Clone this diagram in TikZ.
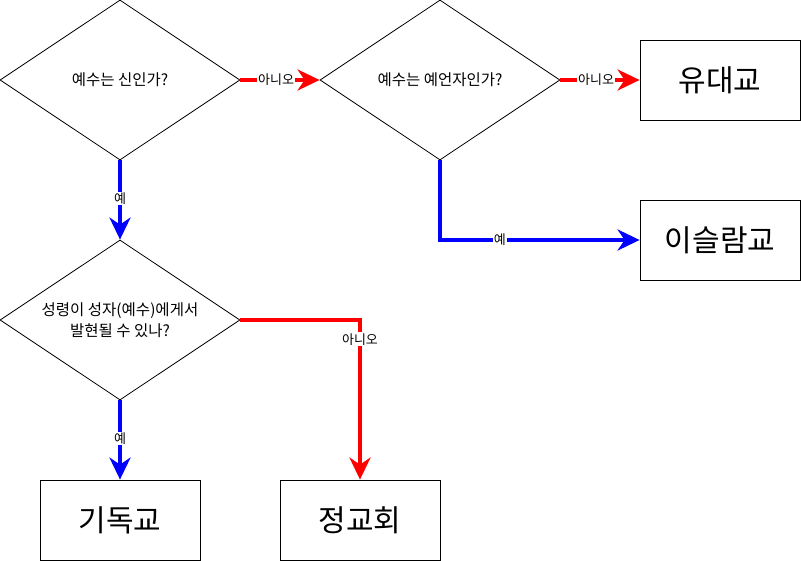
\documentclass[tikz,border=0pt]{standalone}
\usepackage{fontspec}
\setmainfont{Noto Sans CJK KR}
\usetikzlibrary{shapes.geometric,arrows.meta}
\begin{document}
\begin{tikzpicture}[x=1pt,y=-1pt,
  dec/.style={diamond,draw=black,line width=0.8pt,minimum width=240pt,minimum height=160pt,inner sep=0pt,aspect=1.5,align=center,font=\fontsize{15.5}{21}\selectfont},
  res/.style={rectangle,draw=black,line width=0.8pt,minimum width=160pt,minimum height=80pt,inner sep=0pt,font=\fontsize{30}{34}\selectfont},
  noedge/.style={draw={rgb,255:red,255;green,0;blue,0},line width=4pt,-{Stealth[length=22pt,width=21pt,inset=7pt]}},
  yesedge/.style={draw={rgb,255:red,0;green,0;blue,255},line width=4pt,-{Stealth[length=22pt,width=21pt,inset=7pt]}},
  lbl/.style={fill=white,inner sep=1pt,font=\fontsize{13}{15}\selectfont}
]
\useasboundingbox (0,0) rectangle (801,561);
\node[dec] (d1) at (120,80) {예수는 신인가?};
\node[dec] (d2) at (440,80) {예수는 예언자인가?};
\node[dec] (d3) at (120,320) {성령이 성자(예수)에게서\\발현될 수 있나?};
\node[res] (r1) at (720,80) {유대교};
\node[res] (r2) at (720,240) {이슬람교};
\node[res] (r3) at (120,520) {기독교};
\node[res] (r4) at (360,520) {정교회};
\draw[noedge] (d1.east) -- node[lbl,pos=0.45]{아니오} (d2.west);
\draw[noedge] (d2.east) -- node[lbl,pos=0.45]{아니오} (r1.west);
\draw[yesedge] (d1.south) -- node[lbl,pos=0.48]{예} (d3.north);
\draw[yesedge] (d2.south) |- node[lbl,pos=0.65]{예} (r2.west);
\draw[noedge] (d3.east) -| node[lbl,pos=0.56]{아니오} (r4.north);
\draw[yesedge] (d3.south) -- node[lbl,pos=0.48]{예} (r3.north);
\end{tikzpicture}
\end{document}
